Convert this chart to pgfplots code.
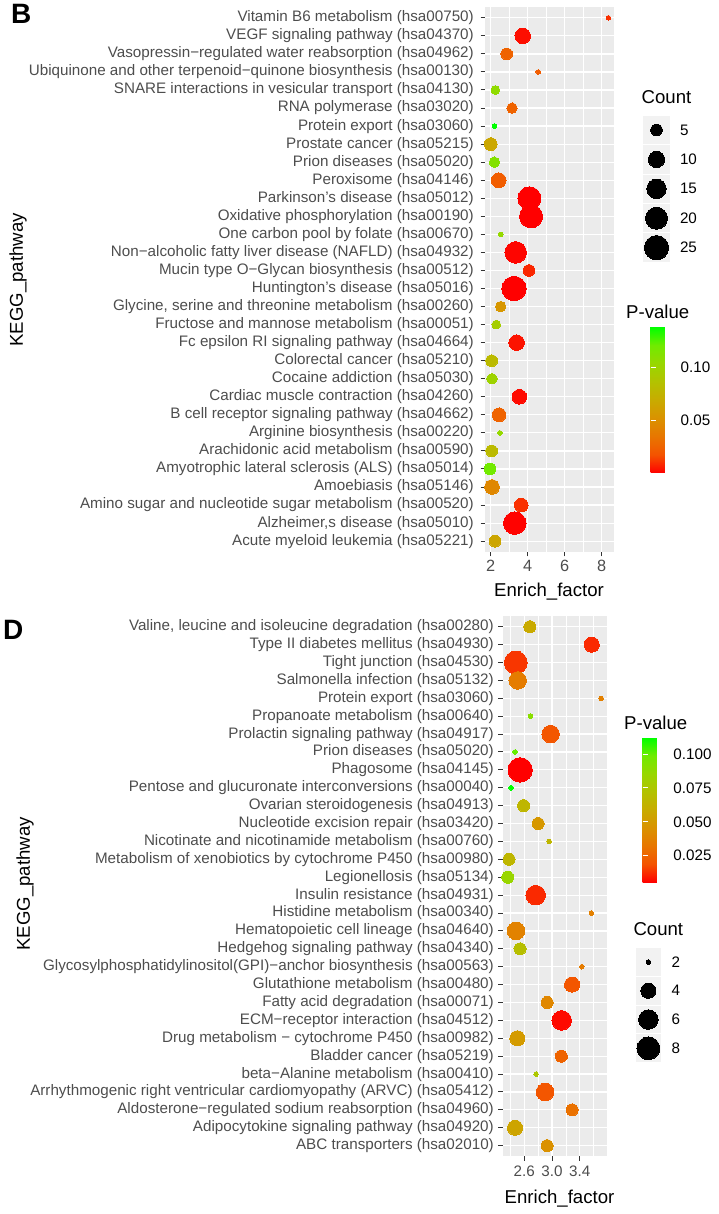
\documentclass[border=0pt]{standalone}
\usepackage{fontspec}
\setmainfont{Liberation Sans}
\usepackage{pgfplots}
\usepackage{pgfplotstable}
\pgfplotsset{compat=1.18}

\definecolor{panelbg}{HTML}{EBEBEB}
\definecolor{tickcol}{HTML}{333333}
\definecolor{labcol}{HTML}{4D4D4D}
\definecolor{keybg}{HTML}{F2F2F2}

\newcommand\ticklab{\fontsize{15.2}{18}\selectfont}
\newcommand\titlef{\fontsize{18.6}{22}\selectfont}

\pgfplotsset{
  colormap={rg}{rgb255=(255,0,0) rgb255=(244,83,0) rgb255=(232,118,0) rgb255=(218,146,0)
    rgb255=(200,171,0) rgb255=(179,194,0) rgb255=(152,215,0) rgb255=(112,235,0) rgb255=(0,255,0)},
  bubble/.style={
    scale only axis, anchor=south west,
    axis background/.style={fill=panelbg},
    axis line style={draw=none},
    ymin=0.4, ymax=30.6, ytick={1,...,30},
    grid=major, xminorgrids=true,
    major grid style={white, line width=1.2pt},
    minor grid style={white, line width=0.6pt},
    tick align=outside, tick pos=left,
    major tick length=4.5pt, minor tick length=0pt,
    tick style={tickcol, line width=1pt},
    yticklabel style={font=\ticklab, text=labcol, inner sep=0pt},
    xticklabel style={text=labcol, inner sep=0pt},
    colormap name=rg,
  },
  dots/.style={scatter, only marks, mark=*, point meta=explicit,
    mark options={line width=0pt},
    scatter/use mapped color={draw=mapped color, fill=mapped color}},
  sizekey/.style={scatter, only marks, mark=*, point meta=explicit,
    mark options={line width=0pt},
    scatter/use mapped color={draw=black, fill=black},
    nodes near coords={\pgfmathprintnumber[assume math mode=true]{\pgfplotspointmeta}},
    every node near coord/.append style={anchor=west, inner sep=0pt, font=\ticklab, text=black}},
}

% y = row (1 = bottom), x = enrich factor, p = p-value, count
\pgfplotstableread{
y x p count
30 8.36 0.010 2
29 3.73 0.003 9
28 2.86 0.025 5
27 4.57 0.022 2
26 2.25 0.107 3
25 3.15 0.025 4
24 2.20 0.138 2
23 2.00 0.066 6
22 2.20 0.112 4
21 2.43 0.022 8
20 4.09 0.0001 22
19 4.18 0.0 22
18 2.54 0.105 2
17 3.35 0.001 19
16 4.07 0.008 5
15 3.26 0.0 25
14 2.54 0.055 4
13 2.30 0.095 3
12 3.40 0.004 9
11 2.05 0.080 5
10 2.07 0.100 4
9 3.55 0.002 8
8 2.45 0.025 7
7 2.50 0.105 2
6 2.05 0.080 5
5 1.96 0.120 5
4 2.07 0.045 8
3 3.65 0.010 7
2 3.30 0.0005 21
1 2.23 0.065 5
}\datB

\pgfplotstableread{
y x p count
30 2.68 0.058 3
29 3.574 0.012 4
28 2.476 0.014 8
27 2.505 0.035 5
26 3.71 0.037 2
25 2.69 0.090 2
24 2.98 0.020 5
23 2.466 0.100 2
22 2.54 0.0054 9
21 2.41 0.112 2
20 2.59 0.065 3
19 2.80 0.048 3
18 2.96 0.065 2
17 2.38 0.065 3
16 2.36 0.085 3
15 2.765 0.012 6
14 3.568 0.037 2
13 2.48 0.038 5
12 2.538 0.070 3
11 3.43 0.035 2
10 3.29 0.020 4
9 2.93 0.040 3
8 3.14 0.007 6
7 2.50 0.050 4
6 3.135 0.025 3
5 2.77 0.075 2
4 2.90 0.020 5
3 3.29 0.030 3
2 2.466 0.055 4
1 2.93 0.045 3
}\datD

\pgfplotstableread{
y count
1 5
2 10
3 15
4 20
5 25
}\legB

\pgfplotstableread{
y count
1 2
2 4
3 6
4 8
}\legD

\begin{document}
\begin{tikzpicture}
\useasboundingbox (0,0) rectangle (718pt,1214pt);

% ---------------- panel B ----------------
\begin{axis}[bubble,
  at={(485pt,662pt)}, width=129pt, height=545pt,
  xmin=1.69, xmax=8.665,
  xtick={2,4,6,8}, xticklabels={2,4,6,8}, minor xtick={3,5,7},
  xticklabel style={font=\fontsize{16.3}{19}\selectfont, yshift=-3.5pt},
  yticklabel style={xshift=-6.5pt},
  yticklabels={Acute myeloid leukemia (hsa05221),
    {Alzheimer,s disease (hsa05010)},
    Amino sugar and nucleotide sugar metabolism (hsa00520),
    Amoebiasis (hsa05146),
    Amyotrophic lateral sclerosis (ALS) (hsa05014),
    Arachidonic acid metabolism (hsa00590),
    Arginine biosynthesis (hsa00220),
    B cell receptor signaling pathway (hsa04662),
    Cardiac muscle contraction (hsa04260),
    Cocaine addiction (hsa05030),
    Colorectal cancer (hsa05210),
    Fc epsilon RI signaling pathway (hsa04664),
    Fructose and mannose metabolism (hsa00051),
    {Glycine, serine and threonine metabolism (hsa00260)},
    Huntington’s disease (hsa05016),
    Mucin type O−Glycan biosynthesis (hsa00512),
    Non−alcoholic fatty liver disease (NAFLD) (hsa04932),
    One carbon pool by folate (hsa00670),
    Oxidative phosphorylation (hsa00190),
    Parkinson’s disease (hsa05012),
    Peroxisome (hsa04146),
    Prion diseases (hsa05020),
    Prostate cancer (hsa05215),
    Protein export (hsa03060),
    RNA polymerase (hsa03020),
    SNARE interactions in vesicular transport (hsa04130),
    Ubiquinone and other terpenoid−quinone biosynthesis (hsa00130),
    Vasopressin−regulated water reabsorption (hsa04962),
    VEGF signaling pathway (hsa04370),
    Vitamin B6 metabolism (hsa00750)},
  point meta min=0, point meta max=0.138,
  colorbar,
  colorbar style={at={(parent axis.north east)}, anchor=north west,
    xshift=28pt, yshift=-320pt, scale only axis, width=29pt, height=146pt,
    axis line style={draw=none},
    ytick={0.05,0.10}, yticklabels={0.05,0.10},
    ytick pos=both, yticklabel pos=right, tick align=inside,
    major tick length=5.8pt, ytick style={draw=white, line width=0.8pt},
    yticklabel style={font=\ticklab, text=black, inner sep=0pt, xshift=1pt}},
]
\addplot[dots,
  visualization depends on={\thisrow{count} \as \cnt},
  scatter/@pre marker code/.append style={/tikz/mark size={(4.6+19.7*sqrt((\cnt-2)/23))/2}}]
  table[x=x, y=y, meta=p] {\datB};
\end{axis}

% size legend B
\begin{axis}[at={(642.3pt,951.6pt)}, anchor=south west, scale only axis,
  width=28.4pt, height=147.1pt, hide axis, clip=false,
  xmin=0, xmax=1, ymin=0.5, ymax=5.5, y dir=reverse]
\pgfplotsinvokeforeach{1,...,5}{
  \fill[keybg, draw=white, line width=1pt] (axis cs:0,#1-0.5) rectangle (axis cs:1,#1+0.5);}
\addplot[sizekey,
  visualization depends on={\thisrow{count} \as \cnt},
  scatter/@pre marker code/.append style={/tikz/mark size={(4.6+19.7*sqrt((\cnt-2)/23))/2}},
  every node near coord/.append style={xshift=23.5pt}]
  table[x expr=0.5, y=y, meta=count] {\legB};
\end{axis}

% ---------------- panel D ----------------
\begin{axis}[bubble,
  at={(502.7pt,57.6pt)}, width=104pt, height=540.4pt,
  xmin=2.288, xmax=3.79,
  xtick={2.6,3.0,3.4}, xticklabels={2.6,3.0,3.4}, minor xtick={2.4,2.8,3.2,3.6},
  xticklabel style={font=\ticklab, yshift=-4.5pt},
  yticklabel style={xshift=-4.2pt},
  yticklabels={ABC transporters (hsa02010),
    Adipocytokine signaling pathway (hsa04920),
    Aldosterone−regulated sodium reabsorption (hsa04960),
    Arrhythmogenic right ventricular cardiomyopathy (ARVC) (hsa05412),
    beta−Alanine metabolism (hsa00410),
    Bladder cancer (hsa05219),
    Drug metabolism − cytochrome P450 (hsa00982),
    ECM−receptor interaction (hsa04512),
    Fatty acid degradation (hsa00071),
    Glutathione metabolism (hsa00480),
    Glycosylphosphatidylinositol(GPI)−anchor biosynthesis (hsa00563),
    Hedgehog signaling pathway (hsa04340),
    Hematopoietic cell lineage (hsa04640),
    Histidine metabolism (hsa00340),
    Insulin resistance (hsa04931),
    Legionellosis (hsa05134),
    Metabolism of xenobiotics by cytochrome P450 (hsa00980),
    Nicotinate and nicotinamide metabolism (hsa00760),
    Nucleotide excision repair (hsa03420),
    Ovarian steroidogenesis (hsa04913),
    Pentose and glucuronate interconversions (hsa00040),
    Phagosome (hsa04145),
    Prion diseases (hsa05020),
    Prolactin signaling pathway (hsa04917),
    Propanoate metabolism (hsa00640),
    Protein export (hsa03060),
    Salmonella infection (hsa05132),
    Tight junction (hsa04530),
    Type II diabetes mellitus (hsa04930),
    {Valine, leucine and isoleucine degradation (hsa00280)}},
  point meta min=0.0054, point meta max=0.112,
  colorbar,
  colorbar style={at={(parent axis.north east)}, anchor=north west,
    xshift=27.3pt, yshift=-121.7pt, scale only axis, width=28.7pt, height=144.6pt,
    axis line style={draw=none},
    ytick={0.025,0.05,0.075,0.1}, yticklabels={0.025,0.050,0.075,0.100},
    ytick pos=both, yticklabel pos=right, tick align=inside,
    major tick length=5.7pt, ytick style={draw=white, line width=0.8pt},
    yticklabel style={font=\ticklab, text=black, inner sep=0pt, xshift=2pt}},
]
\addplot[dots,
  visualization depends on={\thisrow{count} \as \cnt},
  scatter/@pre marker code/.append style={/tikz/mark size={(4.6+19.7*sqrt((\cnt-2)/7))/2}}]
  table[x=x, y=y, meta=p] {\datD};
\end{axis}

% size legend D
\begin{axis}[at={(635pt,151.3pt)}, anchor=south west, scale only axis,
  width=26.7pt, height=115.1pt, hide axis, clip=false,
  xmin=0, xmax=1, ymin=0.5, ymax=4.5, y dir=reverse]
\pgfplotsinvokeforeach{1,...,4}{
  \fill[keybg, draw=white, line width=1pt] (axis cs:0,#1-0.5) rectangle (axis cs:1,#1+0.5);}
\addplot[sizekey,
  visualization depends on={\thisrow{count} \as \cnt},
  scatter/@pre marker code/.append style={/tikz/mark size={(4.6+19.7*sqrt((\cnt-2)/7))/2}},
  every node near coord/.append style={xshift=23.3pt}]
  table[x expr=0.5, y=y, meta=count] {\legD};
\end{axis}

% titles and panel letters
\node[anchor=base west, inner sep=0pt, font=\fontsize{28}{30}\selectfont\bfseries] at (11pt,1190pt) {B};
\node[anchor=base west, inner sep=0pt, font=\fontsize{28}{30}\selectfont\bfseries] at (3pt,574pt) {D};
\node[anchor=base, inner sep=0pt, font=\titlef] at (549pt,617.2pt) {Enrich\_factor};
\node[anchor=base, inner sep=0pt, font=\titlef] at (559.5pt,10.7pt) {Enrich\_factor};
\node[rotate=90, inner sep=0pt, font=\titlef] at (18pt,934pt) {KEGG\_pathway};
\node[rotate=90, inner sep=0pt, font=\titlef] at (25pt,330pt) {KEGG\_pathway};
\node[anchor=base west, inner sep=0pt, font=\titlef] at (641.5pt,1110.4pt) {Count};
\node[anchor=base west, inner sep=0pt, font=\titlef] at (626pt,895.4pt) {P-value};
\node[anchor=base west, inner sep=0pt, font=\titlef] at (624pt,484.4pt) {P-value};
\node[anchor=base west, inner sep=0pt, font=\titlef] at (633.3pt,278.4pt) {Count};
\end{tikzpicture}
\end{document}
